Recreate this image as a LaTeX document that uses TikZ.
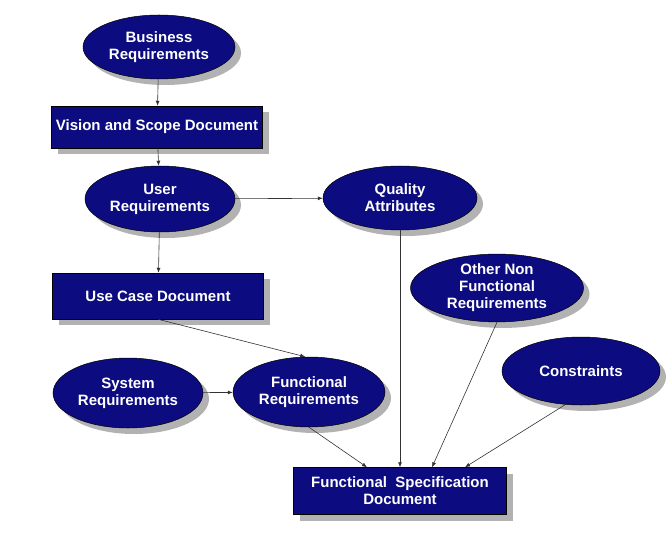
\documentclass[tikz,border=0pt]{standalone}
\usepackage{fontspec}
\setmainfont{Liberation Sans}
\usetikzlibrary{shapes.geometric,shadows,arrows.meta}
\definecolor{reqblue}{RGB}{12,12,128}
\tikzstyle{base} = [draw=black, line width=0.5pt, fill=reqblue, text=white, align=center,
    font=\fontsize{15}{17}\selectfont\bfseries,
    drop shadow={shadow xshift=6pt, shadow yshift=-6pt, fill=black!30, opacity=1}]
\tikzstyle{req} = [base, ellipse, inner sep=0pt, minimum width=152pt, minimum height=64pt]
\tikzstyle{doc} = [base, rectangle, inner sep=1pt, minimum width=211pt, minimum height=44pt]
\tikzstyle{link} = [draw=black!80, line width=0.6pt, -{Latex[length=5pt,width=4pt]}]

\begin{document}
\begin{tikzpicture}[x=1pt, y=-1pt]
    \useasboundingbox (0,0) rectangle (668,545);

    \node [req] (business) at (159,47) {Business\\Requirements};
    \node [doc, minimum height=42pt] (vision) at (157,127) {Vision and Scope Document};
    \node [req, minimum width=150pt, minimum height=66pt] (user) at (160,199) {User\\Requirements};
    \node [req, minimum width=154pt] (quality) at (400,198) {Quality\\Attributes};
    \node [doc, minimum height=46pt] (usecase) at (158,296) {Use Case Document};
    \node [req, minimum width=173pt] (othernfr) at (497,288) {Other Non\\Functional\\Requirements};
    \node [req, minimum width=158pt, minimum height=68pt] (constraints) at (581,371) {Constraints};
    \node [req, minimum width=150pt, minimum height=70pt] (system) at (128,393) {System\\Requirements};
    \node [req, minimum width=152pt, minimum height=70pt] (functional) at (309,392) {Functional\\Requirements};
    \node [doc, minimum width=213pt, minimum height=47pt] (fsd) at (400,491) {Functional~~Specification\\Document};

    \draw [link] (business) -- (vision);
    \draw [link] (vision) -- (user);
    \draw [link] (user) -- (usecase);
    \draw [link] (user) -- (quality);
    \draw [link] (usecase.south) -- (functional.96);
    \draw [link] (system) -- (functional);
    \draw [link] (functional.south) -- ([xshift=-33pt]fsd.north);
    \draw [link] (quality.south) -- (fsd.north);
    \draw [link] (othernfr.south) -- ([xshift=32pt]fsd.north);
    \draw [link] (constraints.245) -- ([xshift=65pt]fsd.north);
\end{tikzpicture}
\end{document}
